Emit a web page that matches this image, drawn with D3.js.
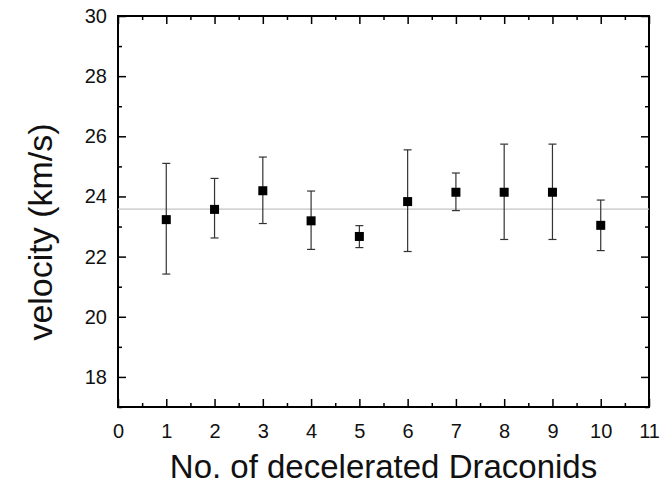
<!DOCTYPE html>
<html>
<head>
<meta charset="utf-8">
<script src="https://cdn.jsdelivr.net/npm/d3@7"></script>
<style>
  body { margin: 0; background: #fff; }
  svg { display: block; font-family: Arial, "Liberation Sans", sans-serif; }
</style>
</head>
<body>
<div id="chart"></div>
<script>
// data
var counts = [1, 2, 3, 4, 5, 6, 7, 8, 9, 10];
var velocity = [23.23, 23.57, 24.19, 23.19, 22.67, 23.83, 24.14, 24.14, 24.14, 23.04];
var errUpper = [25.10, 24.60, 25.31, 24.18, 23.03, 25.55, 24.78, 25.74, 25.74, 23.88];
var errLower = [21.42, 22.62, 23.10, 22.24, 22.30, 22.17, 23.53, 22.57, 22.57, 22.20];
var meanVelocity = 23.58;
var xTicks = [0, 1, 2, 3, 4, 5, 6, 7, 8, 9, 10, 11];
var yTicks = [18, 20, 22, 24, 26, 28, 30];

var W = 663, H = 486;
var margin = { top: 16, right: 14, bottom: 79, left: 118 },
    width = W - margin.left - margin.right,
    height = H - margin.top - margin.bottom,
    markerSize = 9,
    capWidth = 8;

var svg = d3.select("#chart").append("svg")
  .attr("width", W)
  .attr("height", H);

var g = svg.append("g")
  .attr("transform", "translate(" + margin.left + "," + margin.top + ")");

var x = d3.scaleLinear().domain([0, 11]).range([0, width]);
var y = d3.scaleLinear().domain([17, 30]).range([height, 0]);

// minor ticks halfway between the majors
var xMinor = d3.range(0.5, 11, 1);
var yMinor = d3.range(17, 30, 2);

function styleAxis(sel) {
  sel.select(".domain").remove();
  sel.selectAll("line").attr("stroke", "#000").attr("stroke-width", 1.5);
  sel.selectAll("text").attr("fill", "#111").style("font-size", "20px");
}

// bottom
g.append("g").attr("transform", "translate(0," + height + ")")
  .call(d3.axisBottom(x).tickValues(xTicks).tickFormat(d3.format("d")).tickSizeInner(-8).tickPadding(17))
  .call(styleAxis);
g.append("g").attr("transform", "translate(0," + height + ")")
  .call(d3.axisBottom(x).tickValues(xMinor).tickFormat("").tickSizeInner(-4))
  .call(styleAxis);
// top
g.append("g")
  .call(d3.axisTop(x).tickValues(xTicks).tickFormat("").tickSizeInner(-8))
  .call(styleAxis);
g.append("g")
  .call(d3.axisTop(x).tickValues(xMinor).tickFormat("").tickSizeInner(-4))
  .call(styleAxis);
// left
g.append("g")
  .call(d3.axisLeft(y).tickValues(yTicks).tickFormat(d3.format("d")).tickSizeInner(-8).tickPadding(11))
  .call(styleAxis);
g.append("g")
  .call(d3.axisLeft(y).tickValues(yMinor).tickFormat("").tickSizeInner(-4))
  .call(styleAxis);
// right
g.append("g").attr("transform", "translate(" + width + ",0)")
  .call(d3.axisRight(y).tickValues(yTicks).tickFormat("").tickSizeInner(-8))
  .call(styleAxis);
g.append("g").attr("transform", "translate(" + width + ",0)")
  .call(d3.axisRight(y).tickValues(yMinor).tickFormat("").tickSizeInner(-4))
  .call(styleAxis);

// frame
g.append("rect")
  .attr("width", width)
  .attr("height", height)
  .attr("fill", "none")
  .attr("stroke", "#000")
  .attr("stroke-width", 2);

// mean line
g.append("line")
  .attr("x1", 0).attr("x2", width)
  .attr("y1", y(meanVelocity)).attr("y2", y(meanVelocity))
  .attr("stroke", "#c4c4c4")
  .attr("stroke-width", 1.2);

var pts = counts.map(function (c, i) {
  return { n: c, v: velocity[i], hi: errUpper[i], lo: errLower[i] };
});

var bars = g.append("g").attr("stroke", "#333").attr("stroke-width", 1.2);
pts.forEach(function (d) {
  var cx = x(d.n);
  bars.append("line").attr("x1", cx).attr("x2", cx).attr("y1", y(d.hi)).attr("y2", y(d.lo));
  bars.append("line").attr("x1", cx - capWidth / 2).attr("x2", cx + capWidth / 2).attr("y1", y(d.hi)).attr("y2", y(d.hi));
  bars.append("line").attr("x1", cx - capWidth / 2).attr("x2", cx + capWidth / 2).attr("y1", y(d.lo)).attr("y2", y(d.lo));
});

g.selectAll("rect.pt").data(pts).enter().append("rect")
  .attr("class", "pt")
  .attr("x", function (d) { return x(d.n) - markerSize / 2; })
  .attr("y", function (d) { return y(d.v) - markerSize / 2; })
  .attr("width", markerSize)
  .attr("height", markerSize)
  .attr("fill", "#000");

// axis titles
svg.append("text")
  .attr("x", margin.left + width / 2)
  .attr("y", 478)
  .attr("text-anchor", "middle")
  .attr("fill", "#111")
  .style("font-size", "33px")
  .text("No. of decelerated Draconids");

svg.append("text")
  .attr("transform", "translate(52," + 232 + ") rotate(-90)")
  .attr("text-anchor", "middle")
  .attr("fill", "#111")
  .style("font-size", "34px")
  .text("velocity (km/s)");
</script>
</body>
</html>
